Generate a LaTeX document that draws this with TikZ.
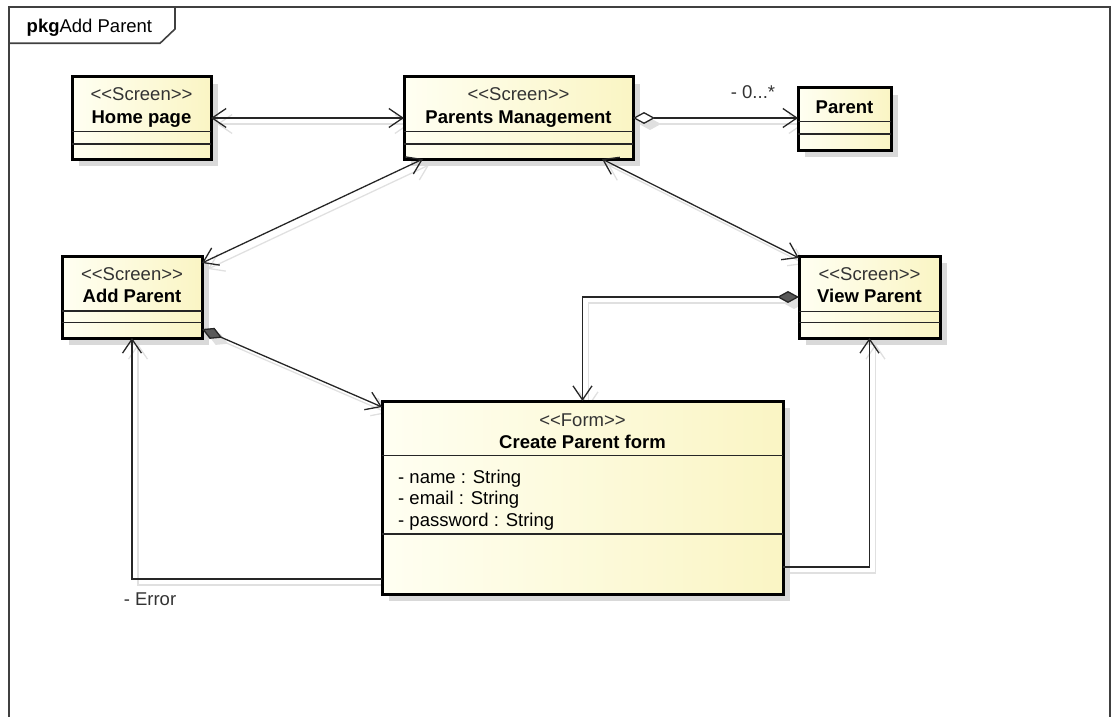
\documentclass[tikz,border=0pt]{standalone}
\usepackage{fontspec}
\setmainfont{Liberation Sans}[Ligatures=TeXOff]
\usetikzlibrary{arrows.meta,calc,shadows,backgrounds}

\definecolor{boxL}{RGB}{255,255,242}
\definecolor{boxR}{RGB}{250,245,196}
\newcommand\sepat[2]{\draw[sepline] ($(#1.north west)+(0,#2)$) -- ($(#1.north east)+(0,#2)$);}

\begin{document}
\begin{tikzpicture}[x=1pt,y=-1pt,
  txt/.style={font=\fontsize{18.5}{21.5}\selectfont, inner sep=0pt},
  stereo/.style={txt, text=black!80},
  cname/.style={txt, font=\fontsize{18.5}{21.5}\selectfont\bfseries},
  cls/.style={rectangle, draw=black, line width=3pt, inner sep=0pt, outer sep=0pt,
    anchor=north west, left color=boxL, right color=boxR,
    drop shadow={shadow xshift=7pt, shadow yshift=-7pt, fill=black!15, opacity=1}},
  sepline/.style={line width=1.3pt, draw=black!85},
  conn/.style={line width=1.3pt, draw=black!85},
  lineshadow/.style={line width=1.3pt, draw=black!12},
  frameline/.style={line width=1.6pt, draw=black!75},
  >={Straight Barb[length=14pt,width=19pt]},
  agg/.tip={Diamond[length=22pt,width=12pt,fill=white]},
  comp/.tip={Diamond[length=22pt,width=12pt,fill=black!65]},
  sdia/.tip={Diamond[length=22pt,width=12pt,fill=black!12]},
]
\useasboundingbox (0,0) rectangle (1112,717);
\clip (0,0) rectangle (1112,717);

% package frame and its tab
\draw[frameline] (9,740) -- (9,7) -- (1110,7) -- (1110,740);
\draw[frameline] (9,43.3) -- (160,43.3) -- (175,29) -- (175,7);
\node[txt, anchor=base west] (tab) at (26.5,32.5) {\textbf{pkg}Add Parent};

% classes
\node[cls, minimum width=139pt, minimum height=82pt] (home) at (72,77) {};
\node[cls, minimum width=229pt, minimum height=82pt] (pm) at (404,77) {};
\node[cls, minimum width=93pt, minimum height=62pt] (parent) at (798,88) {};
\node[cls, minimum width=140pt, minimum height=82pt] (add) at (62,256) {};
\node[cls, minimum width=141pt, minimum height=82pt] (view) at (799,256) {};
\node[cls, minimum width=401pt, minimum height=193pt] (form) at (382,401) {};

\sepat{home}{54.5}\sepat{home}{67}
\sepat{pm}{54.5}\sepat{pm}{67}
\sepat{parent}{33.7}\sepat{parent}{46}
\sepat{add}{55}\sepat{add}{66.3}
\sepat{view}{55.7}\sepat{view}{66.3}
\sepat{form}{54.7}\sepat{form}{133}

\node[stereo, anchor=base] (homeS) at ($(home.north)+(0,24)$) {<<Screen>>};
\node[cname, anchor=base] (homeN) at ($(home.north)+(0,46)$) {Home page};
\node[stereo, anchor=base] (pmS) at ($(pm.north)+(0,24)$) {<<Screen>>};
\node[cname, anchor=base] (pmN) at ($(pm.north)+(0,46)$) {Parents Management};
\node[cname, anchor=base] (parentN) at ($(parent.north)+(0,25.5)$) {Parent};
\node[stereo, anchor=base] (addS) at ($(add.north)+(0,24)$) {<<Screen>>};
\node[cname, anchor=base] (addN) at ($(add.north)+(0,46)$) {Add Parent};
\node[stereo, anchor=base] (viewS) at ($(view.north)+(0,24)$) {<<Screen>>};
\node[cname, anchor=base] (viewN) at ($(view.north)+(0,46)$) {View Parent};
\node[stereo, anchor=base] (formS) at ($(form.north)+(0,25.5)$) {<<Form>>};
\node[cname, anchor=base] (formN) at ($(form.north)+(0,47.5)$) {Create Parent form};
\node[txt, anchor=base west] (attr1) at ($(form.north west)+(16,82)$) {- name : String};
\node[txt, anchor=base west] (attr2) at ($(form.north west)+(16,103.5)$) {- email : String};
\node[txt, anchor=base west] (attr3) at ($(form.north west)+(16,125)$) {- password : String};

% faint shadows of the connectors
\begin{scope}[on background layer]
\begin{scope}[transform canvas={shift={(6pt,-6pt)}}]
\draw[lineshadow, <->] (home.east) -- (pm.west);
\draw[lineshadow, sdia->] (pm.east) -- (pm.east -| parent.west);
\draw[lineshadow, <->] ($(pm.south west)+(19,0)$) -- ($(add.north east)+(0,7)$);
\draw[lineshadow, <->] ($(pm.south east)+(-31,0)$) -- ($(view.north west)+(0,2)$);
\draw[lineshadow, sdia->] ($(add.south east)+(0,-9)$) -- ($(form.north west)+(0,6)$);
\draw[lineshadow, sdia->] (view.west) -| (form.north);
\draw[lineshadow, ->] ($(form.south west)+(0,-15)$) -| (add.south);
\draw[lineshadow, ->] ($(form.south east)+(0,-27)$) -| (view.south);
\end{scope}
\end{scope}

% connectors
\draw[conn, <->] (home.east) -- (pm.west);
\draw[conn, agg->] (pm.east) -- (pm.east -| parent.west);
\node[txt, text=black!80, anchor=base] (mult) at (753,99) {- 0...*};
\draw[conn, <->] ($(pm.south west)+(19,0)$) -- ($(add.north east)+(0,7)$);
\draw[conn, <->] ($(pm.south east)+(-31,0)$) -- ($(view.north west)+(0,2)$);
\draw[conn, comp->] ($(add.south east)+(0,-9)$) -- ($(form.north west)+(0,6)$);
\draw[conn, comp->] (view.west) -| (form.north);
\draw[conn, ->] ($(form.south west)+(0,-15)$) -| (add.south);
\draw[conn, ->] ($(form.south east)+(0,-27)$) -| (view.south);
\node[txt, text=black!80, anchor=base] (err) at (150,605) {- Error};
\end{tikzpicture}
\end{document}
